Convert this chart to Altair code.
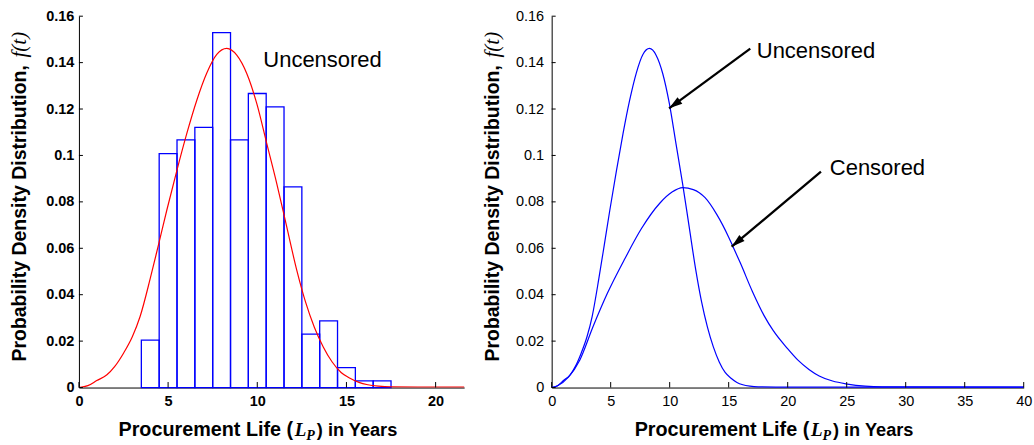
import altair as alt
import pandas as pd

# ---------------- data ----------------
bin_lo = [3.5, 4.5, 5.5, 6.5, 7.5, 8.5, 9.5, 10.5, 11.5, 12.5, 13.5, 14.5, 15.5, 16.5]
bin_hi = [4.5, 5.5, 6.5, 7.5, 8.5, 9.5, 10.5, 11.5, 12.5, 13.5, 14.5, 15.5, 16.5, 17.5]
bin_density = [0.0204, 0.1008, 0.1067, 0.1121, 0.1529, 0.1067, 0.1267, 0.1209,
               0.0865, 0.0230, 0.0287, 0.0086, 0.0029, 0.0029]

unc_x = [0, 0.5, 1.0, 1.57, 2.0, 2.5, 3.0, 3.43, 4.0, 4.46, 4.93, 5.49, 6.05, 6.61,
         7.17, 7.73, 8.29, 8.85, 9.41, 9.97, 10.53, 11.09, 11.65, 12.21, 12.7, 13.2,
         13.7, 14.2, 14.7, 15.2, 15.7, 16.2, 16.8, 17.5, 19.0, 25.0, 40.0]
unc_y = [0, 0.0008, 0.003, 0.0055, 0.009, 0.0148, 0.022, 0.0306, 0.047, 0.0615,
         0.0765, 0.0935, 0.1095, 0.1238, 0.1355, 0.1435, 0.1461, 0.1432, 0.1353,
         0.1224, 0.1052, 0.088, 0.0693, 0.0507, 0.037, 0.026, 0.0175, 0.011, 0.0065,
         0.004, 0.0022, 0.0012, 0.0006, 0.0003, 0.0002, 0.0002, 0.0002]

cen_x = [0, 0.5, 1.42, 2.39, 3.51, 4.72, 6.2, 7.61, 9.16, 10.2, 11.1, 12.0, 13.0,
         14.0, 15.0, 15.34, 16.0, 17.0, 18.0, 18.78, 19.97, 20.87, 21.8, 22.67, 23.8,
         25.06, 26.56, 28.0, 40.0]
cen_y = [0, 0.0008, 0.0045, 0.0119, 0.0263, 0.0406, 0.0555, 0.0685, 0.0794, 0.0842,
         0.0861, 0.0853, 0.0818, 0.0745, 0.0648, 0.061, 0.0535, 0.0415, 0.031,
         0.0245, 0.0169, 0.0118, 0.0078, 0.005, 0.0028, 0.0015, 0.0006, 0.0003, 0.0002]

y_ticks = [0, 0.02, 0.04, 0.06, 0.08, 0.1, 0.12, 0.14, 0.16]
left_x_ticks = [0, 5, 10, 15, 20]
right_x_ticks = [0, 5, 10, 15, 20, 25, 30, 35, 40]

arrow_x1 = [16.83, 22.82]
arrow_y1 = [0.146, 0.093]
arrow_x2 = [9.95, 15.25]
arrow_y2 = [0.1203, 0.0607]
arrow_angle = [234, 230]

label_text = ["Uncensored", "Censored"]
label_x = [17.38, 23.57]
label_y = [0.1451, 0.0944]

# ---------------- layout ----------------
LX0, Y0 = 78.7, 16.0
LW, H = 385.6, 371.7
RX0 = 551.5
RW = 472.5
SANS = "Liberation Sans"
SERIF = "Liberation Serif"
BLUE = "#0000ff"
RED = "#ff0000"

hist_df = pd.DataFrame({"lo": bin_lo, "hi": bin_hi, "d": bin_density})
unc_df = pd.DataFrame({"x": unc_x, "y": unc_y})
two_df = pd.concat([
    pd.DataFrame({"x": unc_x, "y": unc_y, "s": "Uncensored"}),
    pd.DataFrame({"x": cen_x, "y": cen_y, "s": "Censored"}),
])
ytick_df = pd.DataFrame({"v": y_ticks})
lxt_df = pd.DataFrame({"v": left_x_ticks})
rxt_df = pd.DataFrame({"v": right_x_ticks})
arrow_df = pd.DataFrame({"x1": arrow_x1, "y1": arrow_y1, "x2": arrow_x2,
                         "y2": arrow_y2, "a": arrow_angle})
lab_df = pd.DataFrame({"t": label_text, "x": label_x, "y": label_y})
one = pd.DataFrame({"k": [0]})


def panel(xmax, width, xticks_df, bold, label_pad_y):
    xs = alt.Scale(domain=[0, xmax], nice=False, zero=False)
    ys = alt.Scale(domain=[0, 0.16], nice=False)
    weight = "bold" if bold else "normal"
    xaxis = alt.Axis(values=list(xticks_df["v"]), ticks=False, grid=False,
                     labelFont=SANS, labelFontSize=14.5, labelFontWeight=weight,
                     labelColor="black", labelPadding=7, domainColor="black",
                     domainWidth=1, format="~g", labelFlush=False)
    yaxis = alt.Axis(values=y_ticks, ticks=False, grid=False,
                     labelFont=SANS, labelFontSize=14.5, labelFontWeight=weight,
                     labelColor="black", labelPadding=label_pad_y,
                     domainColor="black", domainWidth=1, format="~g",
                     labelFlush=False)
    xt = (alt.Chart(xticks_df).mark_rule(color="black", strokeWidth=1)
          .encode(x=alt.X("v:Q", scale=xs, axis=xaxis, title=None),
                  y=alt.value(H), y2=alt.value(H - 5.5)))
    yt = (alt.Chart(ytick_df).mark_rule(color="black", strokeWidth=1)
          .encode(y=alt.Y("v:Q", scale=ys, axis=yaxis, title=None),
                  x=alt.value(0), x2=alt.value(4)))
    return xs, ys, xt, yt


def titles(width):
    cx = width / 2 - 14.7
    base = H + 48.3
    layers = [
        alt.Chart(one).mark_text(font=SANS, fontSize=19.8, fontWeight="bold",
                                 align="right", baseline="alphabetic", color="black")
        .encode(x=alt.value(cx + 36.3), y=alt.value(base),
                text=alt.value("Procurement Life (")),
        alt.Chart(one).mark_text(font=SERIF, fontSize=19, fontStyle="italic",
                                 fontWeight="bold", align="left",
                                 baseline="alphabetic", color="black")
        .encode(x=alt.value(cx + 38.0), y=alt.value(base), text=alt.value("L")),
        alt.Chart(one).mark_text(font=SERIF, fontSize=14, fontStyle="italic",
                                 fontWeight="bold", align="left",
                                 baseline="alphabetic", color="black")
        .encode(x=alt.value(cx + 49.5), y=alt.value(base + 4), text=alt.value("P")),
        alt.Chart(one).mark_text(font=SANS, fontSize=18.2, fontWeight="bold",
                                 align="left", baseline="alphabetic", color="black")
        .encode(x=alt.value(cx + 60.0), y=alt.value(base),
                text=alt.value(") in Years")),
        alt.Chart(one).mark_text(font=SANS, fontSize=19.5, fontWeight="bold",
                                 align="left", baseline="alphabetic", angle=270,
                                 color="black")
        .encode(x=alt.value(-52.5), y=alt.value(345.7),
                text=alt.value("Probability Density Distribution,")),
        alt.Chart(one).mark_text(font=SERIF, fontSize=21, fontStyle="italic",
                                 align="right", baseline="alphabetic", angle=270,
                                 color="black")
        .encode(x=alt.value(-52.5), y=alt.value(15.7), text=alt.value("f(t)")),
    ]
    return layers


# ---------------- left panel ----------------
lxs, lys, lxt, lyt = panel(21.6, LW, lxt_df, True, 5)

bars = (alt.Chart(hist_df)
        .mark_rect(fill="white", fillOpacity=0, stroke=BLUE, strokeWidth=1.3)
        .encode(x=alt.X("lo:Q", scale=lxs), x2="hi:Q",
                y=alt.Y("d:Q", scale=lys), y2=alt.datum(0)))
red = (alt.Chart(unc_df)
       .mark_line(color=RED, strokeWidth=1.2, interpolate="monotone", clip=True)
       .encode(x=alt.X("x:Q", scale=lxs), y=alt.Y("y:Q", scale=lys)))
left_label = (alt.Chart(one)
              .mark_text(font=SANS, fontSize=22, align="left", baseline="middle",
                         color="black")
              .encode(x=alt.X("xx:Q", scale=lxs), y=alt.Y("yy:Q", scale=lys),
                      text=alt.value("Uncensored"))
              .transform_calculate(xx="10.34", yy="0.141"))
anchor = (alt.Chart(one)
          .mark_rule(color="white", strokeOpacity=0, strokeWidth=0.01)
          .encode(x=alt.value(-LX0), x2=alt.value(1034 - LX0),
                  y=alt.value(-Y0), y2=alt.value(445 - Y0)))

left = alt.layer(anchor, bars, red, lxt, lyt, left_label, *titles(LW)).properties(
    width=LW, height=H)

# ---------------- right panel ----------------
rxs, rys, rxt, ryt = panel(40, RW, rxt_df, False, 8)

curves = (alt.Chart(two_df)
          .mark_line(color=BLUE, strokeWidth=1.2, interpolate="monotone")
          .encode(x=alt.X("x:Q", scale=rxs), y=alt.Y("y:Q", scale=rys),
                  detail="s:N"))
shafts = (alt.Chart(arrow_df).mark_rule(color="black", strokeWidth=2.3)
          .encode(x=alt.X("x1:Q", scale=rxs), y=alt.Y("y1:Q", scale=rys),
                  x2="x2:Q", y2="y2:Q"))
heads = (alt.Chart(arrow_df)
         .mark_point(shape="M0,0L-0.6,2L0.6,2Z", filled=True, color="black",
                     size=180, opacity=1)
         .encode(x=alt.X("x2:Q", scale=rxs), y=alt.Y("y2:Q", scale=rys),
                 angle=alt.Angle("a:Q", scale=None)))
labels = (alt.Chart(lab_df)
          .mark_text(font=SANS, fontSize=22, align="left", baseline="middle",
                     color="black")
          .encode(x=alt.X("x:Q", scale=rxs), y=alt.Y("y:Q", scale=rys), text="t:N"))

right = alt.layer(curves, rxt, ryt, shafts, heads, labels, *titles(RW)).properties(
    width=RW, height=H)

chart = (alt.hconcat(left, right, spacing=RX0 - (LX0 + LW), bounds="flush")
         .properties(padding=0, background="white")
         .configure_view(strokeWidth=0))

chart.save("out.html", embed_options={"renderer": "svg", "actions": False})
